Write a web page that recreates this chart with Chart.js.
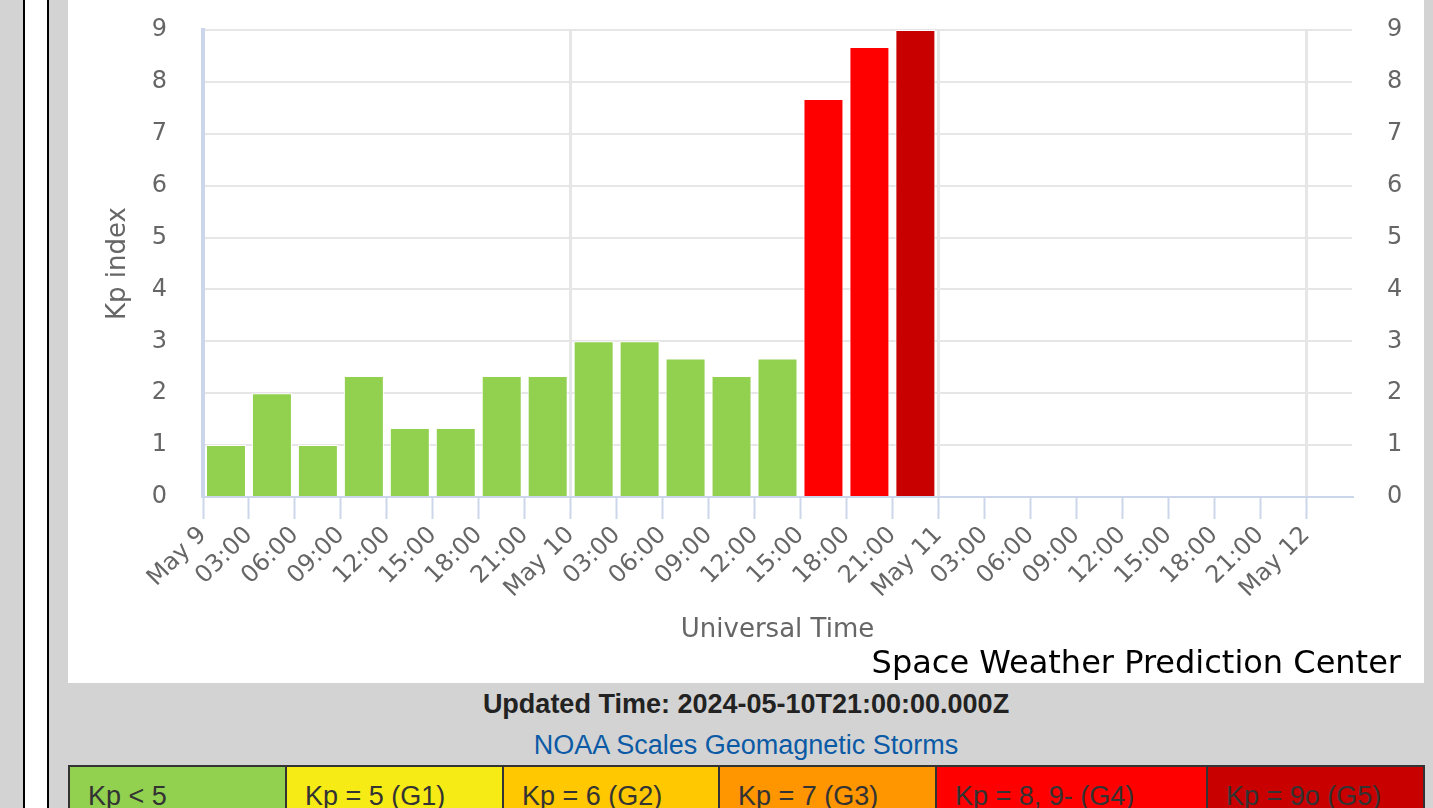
<!DOCTYPE html>
<html>
<head>
<meta charset="utf-8">
<script src="https://cdn.jsdelivr.net/npm/chart.js@4.4.1/dist/chart.umd.min.js"></script>
<style>
  body { margin: 0; width: 1433px; height: 808px; overflow: hidden; background: #d3d3d3; position: relative; font-family: "Liberation Sans", Arial, sans-serif; }
  .vline { position: absolute; top: 0; width: 2px; height: 808px; background: #000; }
  .strip { position: absolute; top: 0; left: 25px; width: 22px; height: 808px; background: #fff; }
  #box { position: absolute; left: 68px; top: 0; width: 1356px; height: 683px; background: #fff; }
  #credit { position: absolute; right: 23px; top: 643px; font: 32px "DejaVu Sans", sans-serif; color: #000; white-space: nowrap; }
  #updated { position: absolute; left: 68px; width: 1356px; top: 689px; text-align: center; font-weight: bold; font-size: 27px; color: #222; }
  #scales { position: absolute; left: 68px; width: 1356px; top: 730px; text-align: center; font-size: 27px; color: #0b5aa6; }
  table { position: absolute; left: 68px; top: 765px; border-collapse: collapse; }
  td { border: 2px solid #333; height: 60px; padding: 14px 18px; font-size: 27px; color: #333; vertical-align: top; box-sizing: border-box; }
</style>
</head>
<body>
<div class="vline" style="left:23px"></div>
<div class="strip"></div>
<div class="vline" style="left:47px"></div>
<div id="box">
  <canvas id="kpChart" width="1356" height="683"></canvas>
  <div id="credit">Space Weather Prediction Center</div>
</div>
<div id="updated">Updated Time: 2024-05-10T21:00:00.000Z</div>
<div id="scales">NOAA Scales Geomagnetic Storms</div>
<table>
  <tr>
    <td style="width:217px;background:#92d050">Kp &lt; 5</td>
    <td style="width:217px;background:#f6eb14">Kp = 5 (G1)</td>
    <td style="width:216px;background:#ffc800">Kp = 6 (G2)</td>
    <td style="width:217px;background:#ff9600">Kp = 7 (G3)</td>
    <td style="width:271px;background:#ff0000">Kp = 8, 9- (G4)</td>
    <td style="width:217px;background:#c80000">Kp = 9o (G5)</td>
  </tr>
</table>
<script>
// start of each 3-hour Kp interval (UTC) and its value
const kpTimes = [
  "2024-05-09T00:00:00Z", "2024-05-09T03:00:00Z", "2024-05-09T06:00:00Z", "2024-05-09T09:00:00Z",
  "2024-05-09T12:00:00Z", "2024-05-09T15:00:00Z", "2024-05-09T18:00:00Z", "2024-05-09T21:00:00Z",
  "2024-05-10T00:00:00Z", "2024-05-10T03:00:00Z", "2024-05-10T06:00:00Z", "2024-05-10T09:00:00Z",
  "2024-05-10T12:00:00Z", "2024-05-10T15:00:00Z", "2024-05-10T18:00:00Z", "2024-05-10T21:00:00Z"
];
const kpValues = [1.00, 2.00, 1.00, 2.33, 1.33, 1.33, 2.33, 2.33, 3.00, 3.00, 2.67, 2.33, 2.67, 7.67, 8.67, 9.00];

const xTickLabels = ["May 9", "03:00", "06:00", "09:00", "12:00", "15:00", "18:00", "21:00",
  "May 10", "03:00", "06:00", "09:00", "12:00", "15:00", "18:00", "21:00",
  "May 11", "03:00", "06:00", "09:00", "12:00", "15:00", "18:00", "21:00", "May 12"];
const yTicks = [0, 1, 2, 3, 4, 5, 6, 7, 8, 9];

const startMs = Date.parse("2024-05-09T00:00:00Z");
const HOUR = 3600 * 1000;
const FONT = "DejaVu Sans";

function kpColor(v) {
    if (v < 4.5) return "#92d050";
    if (v < 5.5) return "#f6eb14";
    if (v < 6.5) return "#ffc800";
    if (v < 7.5) return "#ff9600";
    if (v < 8.83) return "#ff0000";
    return "#c80000";
}

const points = kpTimes.map((t, i) => ({ x: (Date.parse(t) - startMs) / HOUR + 1.5, y: kpValues[i] }));

const tickFont = { family: FONT, size: 24 };
const titleFont = { family: FONT, size: 26 };

new Chart(document.getElementById("kpChart"), {
    type: "bar",
    data: {
        datasets: [{
            label: "Kp",
            data: points,
            backgroundColor: kpValues.map(kpColor),
            borderColor: "#ffffff",
            borderWidth: 1,
            barPercentage: 0.87,
            categoryPercentage: 1
        }]
    },
    options: {
        responsive: false,
        animation: false,
        layout: { padding: { top: 30, left: 0, right: 0, bottom: 0 } },
        plugins: { legend: { display: false }, tooltip: { enabled: false } },
        scales: {
            x: {
                type: "linear",
                min: 0,
                max: 75,
                offset: false,
                afterBuildTicks: s => { s.ticks = xTickLabels.map((_, i) => ({ value: i * 3 })); },
                afterFit: s => { s.height = 186; },
                ticks: {
                    autoSkip: false,
                    maxRotation: 45,
                    minRotation: 45,
                    color: "#666666",
                    font: tickFont,
                    padding: 2,
                    callback: (v, i) => xTickLabels[i]
                },
                grid: {
                    offset: false,
                    color: c => (c.index % 8 === 0 ? "#e6e6e6" : "rgba(0,0,0,0)"),
                    lineWidth: 3,
                    tickColor: "#ccd6eb",
                    tickWidth: 2,
                    tickLength: 22
                },
                border: { color: "#ccd6eb", width: 2 },
                title: { display: true, text: "Universal Time", color: "#666666", font: titleFont, padding: { top: 0, bottom: 37 } }
            },
            y: {
                position: "left",
                min: 0,
                max: 9,
                afterBuildTicks: s => { s.ticks = yTicks.map(v => ({ value: v })); },
                afterFit: s => { s.width = 135; },
                ticks: { color: "#666666", font: tickFont, padding: 3 },
                grid: { color: "#e6e6e6", lineWidth: 2, tickColor: "rgba(0,0,0,0)", tickLength: 33 },
                border: { color: "#ccd6eb", width: 4 },
                title: { display: true, text: "Kp index", color: "#666666", font: titleFont, padding: { top: 35, bottom: 0 } }
            },
            y2: {
                position: "right",
                min: 0,
                max: 9,
                afterBuildTicks: s => { s.ticks = yTicks.map(v => ({ value: v })); },
                afterFit: s => { s.width = 72; },
                ticks: { color: "#666666", font: tickFont, padding: 3 },
                grid: { drawOnChartArea: false, tickColor: "rgba(0,0,0,0)", tickLength: 32 },
                border: { display: false }
            }
        }
    }
});
</script>
</body>
</html>
